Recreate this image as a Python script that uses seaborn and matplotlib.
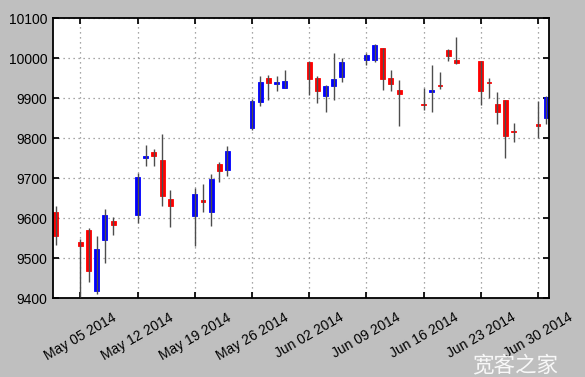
import matplotlib
matplotlib.use("Agg")
import matplotlib.pyplot as plt
import matplotlib.dates as mdates
import seaborn as sns
import pandas as pd
import numpy as np

dates = ["2014-05-02", "2014-05-05", "2014-05-06", "2014-05-07", "2014-05-08", "2014-05-09",
         "2014-05-12", "2014-05-13", "2014-05-14", "2014-05-15", "2014-05-16",
         "2014-05-19", "2014-05-20", "2014-05-21", "2014-05-22", "2014-05-23",
         "2014-05-26", "2014-05-27", "2014-05-28", "2014-05-29", "2014-05-30",
         "2014-06-02", "2014-06-03", "2014-06-04", "2014-06-05", "2014-06-06",
         "2014-06-09", "2014-06-10", "2014-06-11", "2014-06-12", "2014-06-13",
         "2014-06-16", "2014-06-17", "2014-06-18", "2014-06-19", "2014-06-20",
         "2014-06-23", "2014-06-24", "2014-06-25", "2014-06-26", "2014-06-27",
         "2014-06-30", "2014-07-01"]
opens = [9614, 9539, 9571, 9417, 9546, 9593,
         9608, 9749, 9766, 9744, 9648,
         9606, 9646, 9614, 9735, 9721,
         9824, 9890, 9950, 9936, 9925,
         9989, 9951, 9904, 9929, 9953,
         9994, 9996, 10024, 9950, 9921,
         9886, 9914, 9933, 10020, 9996,
         9993, 9941, 9886, 9896, 9818,
         9836, 9851]
highs = [9629, 9547, 9575, 9556, 9622, 9602,
         9712, 9783, 9772, 9811, 9671,
         9675, 9686, 9711, 9741, 9780,
         9897, 9954, 9958, 9956, 9971,
         9993, 9956, 9933, 10012, 10000,
         10012, 10034, 10025, 9971, 9946,
         9925, 9983, 9964, 10023, 10052,
         9993, 9950, 9914, 9896, 9837,
         9892, 9904]
lows = [9533, 9402, 9439, 9411, 9487, 9558,
        9587, 9731, 9731, 9631, 9577,
        9531, 9614, 9581, 9689, 9706,
        9819, 9879, 9896, 9917, 9925,
        9908, 9888, 9866, 9894, 9941,
        9983, 9989, 9921, 9917, 9829,
        9869, 9864, 9923, 9992, 9986,
        9883, 9900, 9836, 9750, 9789,
        9800, 9836]
closes = [9554, 9529, 9467, 9523, 9608, 9582,
          9702, 9756, 9754, 9654, 9629,
          9661, 9639, 9698, 9718, 9768,
          9893, 9941, 9938, 9941, 9943,
          9948, 9918, 9929, 9948, 9989,
          10008, 10033, 9948, 9936, 9911,
          9883, 9921, 9929, 10004, 9987,
          9918, 9937, 9866, 9804, 9814,
          9831, 9902]

df = pd.DataFrame({"date": pd.to_datetime(dates), "open": opens, "high": highs,
                   "low": lows, "close": closes})
df["x"] = mdates.date2num(df["date"])
df["up"] = df["close"] >= df["open"]

sns.set_theme(style="ticks", rc={
    "figure.facecolor": "#bfbfbf",
    "axes.facecolor": "white",
    "axes.edgecolor": "black",
    "axes.linewidth": 1.3,
    "xtick.direction": "in",
    "ytick.direction": "in",
    "xtick.top": True,
    "ytick.right": True,
    "xtick.major.size": 4,
    "ytick.major.size": 4,
    "grid.color": "#8a8a8a",
    "grid.linestyle": (0, (1, 3)),
    "grid.linewidth": 0.9,
})
plt.rcParams["font.family"] = ["Liberation Sans", "Noto Sans CJK SC", "DejaVu Sans"]

fig = plt.figure(figsize=(5.85, 3.77), dpi=100)
ax = fig.add_axes([0.0906, 0.2095, 0.848, 0.7425])

width = 0.6
colors = np.where(df["up"], "#0000ff", "#ff0000")
ax.bar(df["x"], df["close"] - df["open"], bottom=df["open"], width=width,
       color=colors, edgecolor=colors, linewidth=0.6, zorder=2)
ax.vlines(df["x"], df["low"], df["high"], color="#4d4d4d", linewidth=1.0, zorder=3)

ax.set_xlim(df["x"].min() - width / 2 - 0.05, df["x"].max() + width / 2 + 0.05)
ax.set_ylim(9400, 10100)
ax.set_yticks(np.arange(9400, 10101, 100))
ax.xaxis_date()
ax.xaxis.set_major_locator(mdates.WeekdayLocator(byweekday=mdates.MO))
ax.xaxis.set_major_formatter(mdates.DateFormatter("%b %d %Y"))
ax.grid(True)
ax.tick_params(labelsize=10, pad=4, colors="black")
ax.tick_params(axis="x", pad=9)
for lbl in ax.get_xticklabels():
    lbl.set_rotation(30)
    lbl.set_ha("center")

fig.text(0.88, 0.032, "宽客之家", fontsize=15.5, color="white", alpha=0.9,
         ha="center", va="center", family=["Noto Sans CJK SC", "DejaVu Sans"])

fig.savefig("out.png", dpi=100, facecolor=fig.get_facecolor())
